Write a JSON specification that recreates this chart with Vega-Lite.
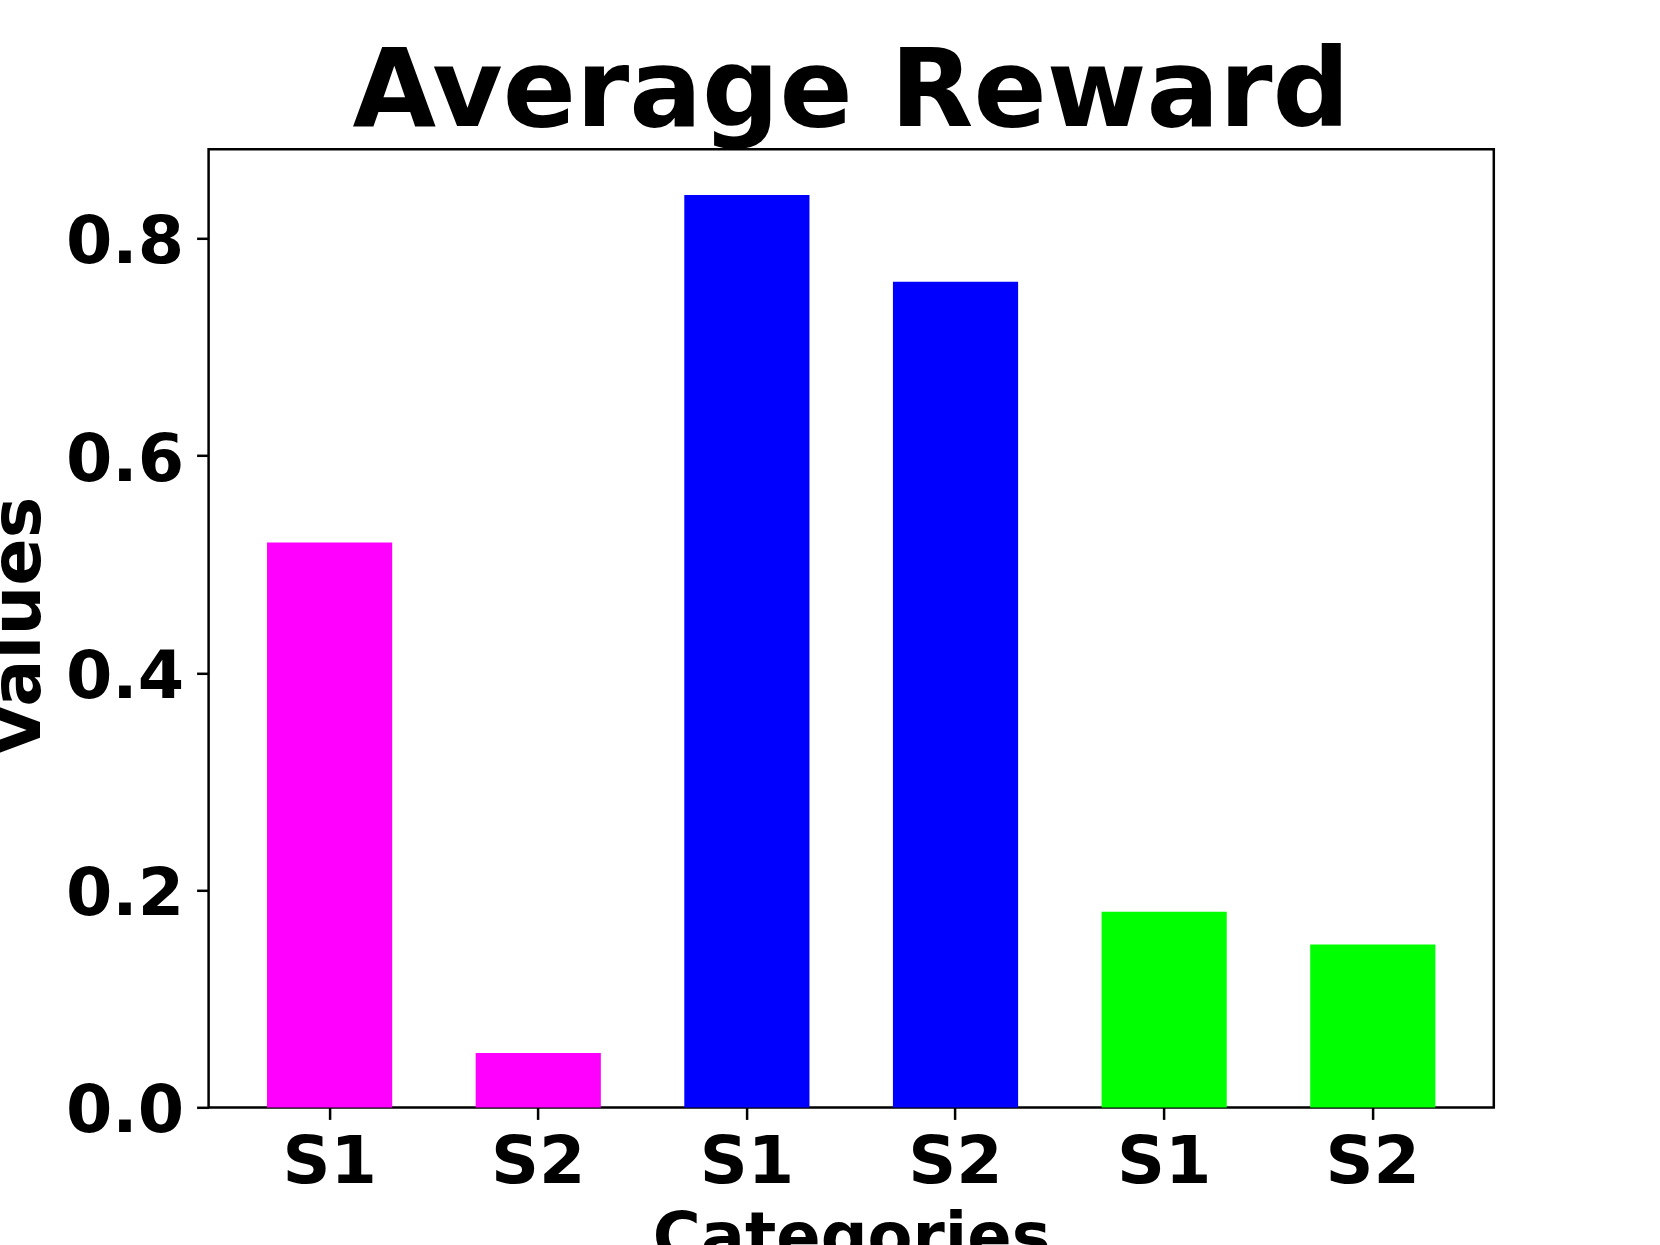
{
  "$schema": "https://vega.github.io/schema/vega-lite/v6.json",
  "autosize": {"type": "none"},
  "padding": {"left": 208.6, "top": 149.3, "right": 166.2, "bottom": 137.6},
  "width": 1285.2,
  "height": 958.1,
  "background": "white",
  "config": {
    "font": "DejaVu Sans",
    "view": {"stroke": "black", "strokeWidth": 2.5},
    "axis": {"grid": false, "domain": false}
  },
  "title": {
    "text": "Average Reward",
    "font": "DejaVu Sans",
    "fontSize": 108,
    "fontWeight": "bold",
    "color": "black",
    "anchor": "middle",
    "baseline": "alphabetic",
    "offset": 22,
    "dy": 106.5
  },
  "data": {
    "values": [
      {"key": "A|S1", "group": "A", "value": 0.52},
      {"key": "A|S2", "group": "A", "value": 0.05},
      {"key": "B|S1", "group": "B", "value": 0.84},
      {"key": "B|S2", "group": "B", "value": 0.76},
      {"key": "C|S1", "group": "C", "value": 0.18},
      {"key": "C|S2", "group": "C", "value": 0.15}
    ]
  },
  "mark": {"type": "bar"},
  "encoding": {
    "x": {
      "field": "key",
      "type": "nominal",
      "sort": null,
      "scale": {"paddingInner": 0.4, "paddingOuter": 0.28},
      "axis": {
        "title": "Categories",
        "labelExpr": "split(datum.value, '|')[1]",
        "labelAngle": 0,
        "labelFont": "DejaVu Sans",
        "labelFontSize": 66.7,
        "labelFontWeight": "bold",
        "labelColor": "black",
        "labelPadding": 10,
        "tickSize": 12,
        "tickWidth": 2.5,
        "tickColor": "black",
        "titleFont": "DejaVu Sans",
        "titleFontSize": 65.5,
        "titleFontWeight": "bold",
        "titleColor": "black",
        "titleBaseline": "alphabetic",
        "titleY": 151.5
      }
    },
    "y": {
      "field": "value",
      "type": "quantitative",
      "scale": {"domain": [0, 0.882], "nice": false, "zero": true},
      "axis": {
        "title": "Values",
        "values": [0, 0.2, 0.4, 0.6, 0.8],
        "format": ".1f",
        "labelFont": "DejaVu Sans",
        "labelFontSize": 66.7,
        "labelFontWeight": "bold",
        "labelColor": "black",
        "labelPadding": 13,
        "labelOffset": 4.5,
        "tickSize": 12,
        "tickWidth": 2.5,
        "tickColor": "black",
        "titleFont": "DejaVu Sans",
        "titleFontSize": 70,
        "titleFontWeight": "bold",
        "titleColor": "black",
        "titleAngle": 270,
        "titleAlign": "center",
        "titleBaseline": "alphabetic",
        "titleX": -169.5,
        "titleY": 477
      }
    },
    "color": {
      "field": "group",
      "type": "nominal",
      "scale": {"domain": ["A", "B", "C"], "range": ["#ff00ff", "#0000ff", "#00ff00"]},
      "legend": null
    }
  }
}
